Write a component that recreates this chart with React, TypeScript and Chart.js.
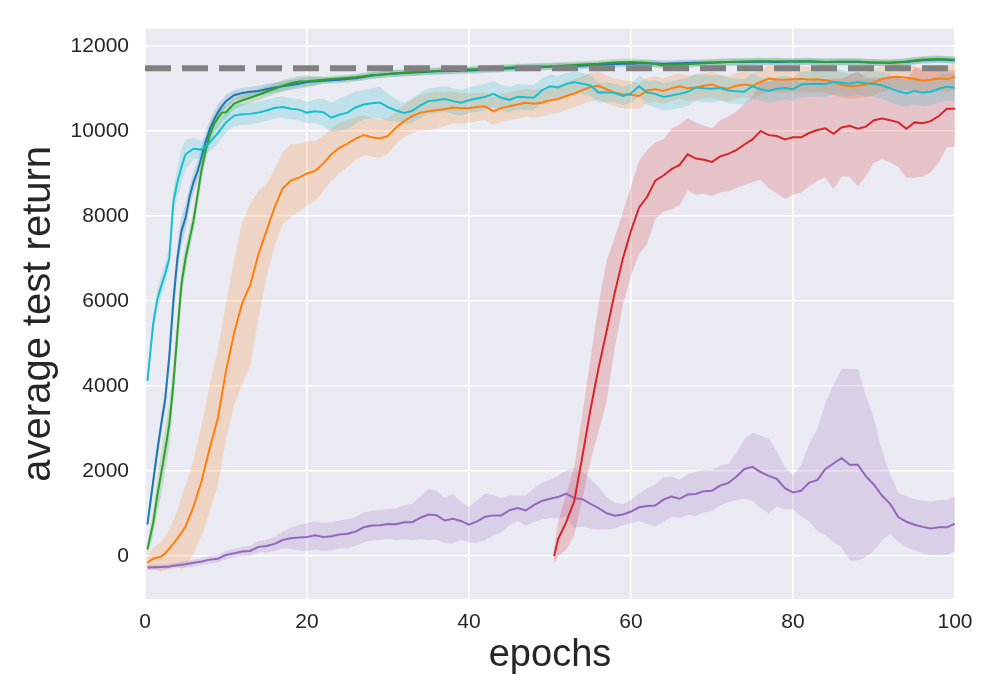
import { useEffect, useRef } from "react"
import { Chart, registerables } from "chart.js"

Chart.register(...registerables)

// x positions (epochs) for the fast learners, sampled finer at the start
const epochsFast = [
  0.3, 1, 1.5, 2, 2.5, 3, 3.5, 4, 4.5, 5, 5.5, 6, 6.5, 7, 7.5, 8, 8.5, 9, 9.5, 10,
  11, 12, 13, 14, 15, 16, 17, 18, 19, 20,
  22, 24, 26, 28, 30, 32, 34, 36, 38, 40, 42, 44, 46, 48, 50, 52, 54, 56, 58, 60,
  62, 64, 66, 68, 70, 72, 74, 76, 78, 80, 82, 84, 86, 88, 90, 92, 94, 96, 98, 100,
]

const epochs = [
  0.3, 1, 1.5, 2, 2.5, 3, 3.5, 4, 4.5, 5,
  6, 7, 8, 9, 10, 11, 12, 13, 14, 15, 16, 17, 18, 19, 20,
  21, 22, 23, 24, 25, 26, 27, 28, 29, 30, 31, 32, 33, 34, 35, 36, 37, 38, 39, 40,
  41, 42, 43, 44, 45, 46, 47, 48, 49, 50, 51, 52, 53, 54, 55, 56, 57, 58, 59, 60,
  61, 62, 63, 64, 65, 66, 67, 68, 69, 70, 71, 72, 73, 74, 75, 76, 77, 78, 79, 80,
  81, 82, 83, 84, 85, 86, 87, 88, 89, 90, 91, 92, 93, 94, 95, 96, 97, 98, 99, 100,
]

const epochsRed = [
  50.5, 51, 52, 53, 54, 55, 56, 57, 58, 59, 60,
  61, 62, 63, 64, 65, 66, 67, 68, 69, 70, 71, 72, 73, 74, 75, 76, 77, 78, 79, 80,
  81, 82, 83, 84, 85, 86, 87, 88, 89, 90, 91, 92, 93, 94, 95, 96, 97, 98, 99, 100,
]

const xTicks = [0, 20, 40, 60, 80, 100]
const yTicks = [0, 2000, 4000, 6000, 8000, 10000, 12000]

const blueMean = [
  750, 1750, 2450, 3100, 3700, 4700, 5990, 7000, 7650, 7950, 8450, 8800, 9050, 9400, 9750, 10040, 10250, 10430, 10580, 10700,
  10840, 10890, 10920, 10940, 10980, 11020, 11050, 11080, 11110, 11150,
  11180, 11200, 11240, 11300, 11340, 11360, 11380, 11400, 11410, 11420,
  11440, 11460, 11480, 11500, 11510, 11520, 11530, 11550, 11570, 11580,
  11590, 11580, 11590, 11600, 11610, 11620, 11620, 11630, 11620, 11630,
  11630, 11620, 11620, 11620, 11610, 11600, 11620, 11660, 11680, 11660,
]
const blueStd = [
  100, 200, 200, 200, 250, 300, 350, 350, 350, 300, 250, 250, 250, 250, 250, 200, 200, 200, 150, 150,
  120, 120, 120, 120, 120, 120, 120, 120, 120, 120,
  80, 80, 80, 80, 80, 80, 80, 80, 80, 80, 80, 80, 80, 80, 80, 80, 80, 80, 80, 80,
  80, 80, 80, 80, 80, 80, 80, 80, 80, 80, 80, 80, 80, 80, 80, 80, 80, 80, 80, 80,
]

const greenMean = [
  160, 770, 1400, 1950, 2500, 3100, 4040, 5250, 6400, 7000, 7450, 7900, 8500, 9100, 9550, 9900, 10150, 10300, 10430, 10440,
  10640, 10720, 10780, 10850, 10920, 10990, 11060, 11120, 11160, 11170,
  11200, 11230, 11260, 11310, 11340, 11370, 11390, 11410, 11430, 11445,
  11460, 11480, 11500, 11510, 11520, 11540, 11560, 11580, 11610, 11620,
  11600, 11540, 11560, 11580, 11600, 11620, 11630, 11640, 11640, 11630,
  11640, 11620, 11630, 11630, 11600, 11600, 11630, 11680, 11690, 11670,
]
const greenStd = [
  150, 300, 400, 500, 500, 500, 450, 400, 350, 300, 250, 250, 250, 250, 250, 250, 200, 200, 200, 150,
  130, 130, 130, 130, 130, 130, 130, 130, 130, 130,
  80, 80, 80, 80, 80, 80, 80, 80, 80, 80, 80, 80, 80, 80, 80, 80, 80, 80, 80, 80,
  80, 80, 80, 80, 80, 80, 80, 80, 80, 80, 80, 80, 80, 80, 80, 80, 80, 80, 80, 80,
]

const cyanMean = [
  4120, 5450, 6020, 6350, 6650, 7000, 8330, 8800, 9150, 9450,
  9580, 9560, 9730, 9950, 10200, 10360, 10390, 10400, 10430, 10480,
  10540, 10560, 10520, 10500, 10430, 10460, 10440, 10310, 10380, 10430,
  10550, 10620, 10650, 10665, 10560, 10480, 10420, 10470, 10600, 10700,
  10720, 10750, 10700, 10660, 10720, 10760, 10800, 10870, 10780, 10730,
  10800, 10790, 10780, 10950, 11050, 11020, 11100, 11150, 11110, 11070,
  10900, 10910, 10890, 10820, 10880, 11050, 10900, 10870, 10800, 10830,
  10870, 10920, 11020, 11000, 10990, 11010, 10950, 10930, 10920, 11050,
  10980, 10940, 10990, 11010, 10980, 11090, 11100, 11110, 11100, 11150,
  11130, 11110, 11150, 11120, 11100, 11070, 11000, 10930, 10880, 10940,
  10900, 10920, 10990, 11040, 11017,
]
const cyanStd = [
  150, 200, 250, 250, 250, 250, 300, 350, 400, 350,
  250, 200, 200, 250, 250, 250, 250, 250, 250, 250,
  250, 250, 250, 250, 250, 280, 320, 350, 380, 400,
  380, 350, 350, 370, 320, 260, 250, 280, 300, 300,
  300, 300, 300, 300, 300, 310, 310, 300, 300, 300,
  300, 300, 300, 280, 275, 270, 260, 250, 250, 250,
  230, 230, 220, 220, 220, 250, 280, 320, 320, 330,
  340, 330, 320, 320, 320, 300, 300, 300, 300, 300,
  280, 280, 280, 280, 280, 300, 300, 300, 300, 300,
  300, 300, 300, 300, 300, 320, 320, 320, 320, 320,
  320, 320, 320, 320, 320,
]

const orangeMean = [
  -155, -60, -30, -10, 70, 180, 295, 420, 550, 700,
  1170, 1780, 2550, 3250, 4350, 5250, 5950, 6380, 7100, 7650,
  8200, 8650, 8830, 8900, 9000, 9060, 9230, 9450, 9600, 9700,
  9820, 9900, 9850, 9820, 9880, 10080, 10230, 10350, 10430, 10460,
  10490, 10510, 10550, 10530, 10540, 10560, 10580, 10460, 10540, 10580,
  10620, 10660, 10640, 10660, 10720, 10750, 10820, 10880, 10960, 11030,
  11060, 10980, 10900, 10860, 10850, 10820, 10950, 10980, 10940, 11000,
  11050, 11000, 11020, 11060, 11090, 11020, 10990, 11060, 11090, 11060,
  11150, 11230, 11210, 11200, 11215, 11220, 11210, 11215, 11190, 11150,
  11080, 11050, 11060, 11090, 11140, 11220, 11260, 11270, 11250, 11220,
  11180, 11200, 11230, 11220, 11270,
]
const orangeStd = [
  150, 250, 300, 350, 400, 450, 550, 650, 850, 950,
  1100, 1300, 1500, 1600, 1600, 1700, 1900, 1900, 1500, 1100,
  900, 850, 850, 800, 750, 700, 650, 620, 600, 550,
  500, 470, 450, 450, 420, 380, 380, 400, 420, 440,
  430, 400, 380, 360, 350, 330, 330, 330, 330, 330,
  330, 330, 330, 330, 330, 330, 330, 330, 330, 330,
  330, 330, 330, 330, 330, 300, 300, 300, 300, 300,
  300, 300, 300, 300, 300, 300, 300, 300, 300, 300,
  300, 300, 300, 300, 300, 300, 300, 300, 300, 300,
  300, 300, 300, 300, 300, 300, 300, 300, 300, 300,
  300, 300, 300, 300, 300,
]

const purpleMean = [
  -265, -262, -260, -255, -250, -245, -225, -210, -200, -190,
  -155, -125, -80, -60, 30, 70, 110, 125, 220, 240,
  290, 380, 420, 440, 450, 490, 450, 470, 510, 530,
  580, 680, 720, 730, 760, 750, 800, 800, 905, 980,
  965, 840, 880, 830, 740, 820, 930, 960, 960, 1080,
  1130, 1075, 1200, 1300, 1350, 1390, 1470, 1370, 1340, 1230,
  1130, 1010, 950, 980, 1050, 1150, 1180, 1190, 1330, 1400,
  1350, 1450, 1465, 1530, 1540, 1660, 1720, 1870, 2050, 2100,
  1980, 1890, 1820, 1600, 1500, 1540, 1730, 1790, 2050, 2180,
  2310, 2150, 2150, 1880, 1680, 1420, 1230, 920, 810, 740,
  690, 650, 680, 680, 765,
]
const purpleStd = [
  60, 60, 60, 60, 60, 60, 60, 70, 70, 80,
  80, 80, 90, 90, 100, 100, 110, 120, 130, 150,
  170, 200, 250, 300, 330, 330, 330, 330, 330, 340,
  340, 350, 350, 350, 350, 380, 400, 430, 500, 600,
  580, 530, 580, 450, 420, 500, 550, 480, 400, 350,
  300, 350, 400, 430, 450, 500, 550, 700, 650, 580,
  500, 380, 300, 250, 280, 320, 420, 500, 520, 470,
  450, 480, 520, 500, 480, 470, 450, 550, 700, 800,
  850, 880, 650, 500, 400, 600, 900, 1200, 1550, 1850,
  2100, 2250, 2250, 1900, 1550, 1050, 700, 580, 600, 600,
  620, 630, 640, 650, 650,
]

const redMean = [
  0, 400, 800, 1300, 2350, 3450, 4430, 5300, 6200, 7000, 7650,
  8200, 8450, 8830, 8950, 9100, 9200, 9450, 9350, 9320, 9270,
  9400, 9460, 9550, 9680, 9800, 10000, 9900, 9880, 9800, 9850,
  9850, 9950, 10020, 10060, 9930, 10080, 10120, 10050, 10100, 10250,
  10290, 10250, 10200, 10050, 10200, 10180, 10230, 10350, 10520, 10520,
]
const redStd = [
  180, 400, 650, 800, 1000, 1200, 1500, 1650, 1300, 1100, 1050,
  1100, 1100, 900, 850, 950, 950, 850, 850, 800, 800,
  850, 880, 900, 950, 1000, 1150, 1250, 1350, 1400, 1350,
  1300, 1250, 1200, 1150, 1300, 1150, 1200, 1350, 1150, 1000,
  950, 1000, 1050, 1150, 1300, 1250, 1200, 1100, 900, 900,
]

const bestReturn = 11470

// top-most first: Chart.js draws dataset 0 last
const series = [
  { name: "cyan", xs: epochs, mean: cyanMean, std: cyanStd, color: "23,190,207" },
  { name: "red", xs: epochsRed, mean: redMean, std: redStd, color: "214,39,40" },
  { name: "purple", xs: epochs, mean: purpleMean, std: purpleStd, color: "148,103,189" },
  { name: "green", xs: epochsFast, mean: greenMean, std: greenStd, color: "44,160,44" },
  { name: "orange", xs: epochs, mean: orangeMean, std: orangeStd, color: "255,127,14" },
  { name: "blue", xs: epochsFast, mean: blueMean, std: blueStd, color: "31,119,180" },
]

const FONT = "'Liberation Sans', Arial, Helvetica, sans-serif"
const TEXT = "#262626"

const plotBackground = {
  id: "plotBackground",
  beforeDraw(chart: Chart) {
    const { ctx, chartArea: a, width, height } = chart
    ctx.save()
    ctx.fillStyle = "#ffffff"
    ctx.fillRect(0, 0, width, height)
    ctx.fillStyle = "#EAEAF2"
    ctx.fillRect(a.left, a.top, a.right - a.left, a.bottom - a.top)
    ctx.restore()
  },
}

export default function App() {
  const canvasRef = useRef<HTMLCanvasElement>(null)
  const chartRef = useRef<Chart | null>(null)

  useEffect(() => {
    if (!canvasRef.current) return
    if (chartRef.current) chartRef.current.destroy()

    const datasets: any[] = []

    datasets.push({
      data: [
        { x: 0, y: bestReturn },
        { x: 100, y: bestReturn },
      ],
      borderColor: "#808080",
      borderWidth: 6,
      borderDash: [26, 11],
      pointRadius: 0,
      fill: false,
    })

    series.forEach((s) => {
      datasets.push({
        label: s.name,
        data: s.xs.map((x, i) => ({ x, y: s.mean[i] })),
        borderColor: `rgb(${s.color})`,
        borderWidth: 2,
        pointRadius: 0,
        tension: 0,
        fill: false,
      })
    })

    series.forEach((s) => {
      datasets.push({
        data: s.xs.map((x, i) => ({ x, y: s.mean[i] - s.std[i] })),
        borderWidth: 0,
        borderColor: "rgba(0,0,0,0)",
        pointRadius: 0,
        fill: false,
      })
      datasets.push({
        data: s.xs.map((x, i) => ({ x, y: s.mean[i] + s.std[i] })),
        borderWidth: 0,
        borderColor: "rgba(0,0,0,0)",
        backgroundColor: `rgba(${s.color},0.2)`,
        pointRadius: 0,
        fill: "-1",
      })
    })

    chartRef.current = new Chart(canvasRef.current, {
      type: "line",
      data: { datasets },
      plugins: [plotBackground],
      options: {
        animation: false,
        responsive: true,
        maintainAspectRatio: false,
        layout: { padding: { top: 26, right: 45, bottom: 0, left: 0 } },
        plugins: {
          legend: { display: false },
          tooltip: { enabled: false },
          filler: { drawTime: "beforeDatasetsDraw" },
        },
        scales: {
          x: {
            type: "linear",
            min: 0,
            max: 100,
            border: { display: false },
            grid: { color: "#ffffff", lineWidth: 1.5, drawTicks: false },
            ticks: {
              padding: 11,
              color: TEXT,
              font: { family: FONT, size: 21 },
              maxRotation: 0,
            },
            afterBuildTicks: (scale: any) => {
              scale.ticks = xTicks.map((value) => ({ value }))
            },
            title: {
              display: true,
              text: "epochs",
              color: TEXT,
              font: { family: FONT, size: 38 },
              padding: { top: 0, bottom: 22 },
            },
            afterFit: (scale: any) => {
              scale.height = 101
            },
          },
          y: {
            min: -1006,
            max: 12405,
            border: { display: false },
            grid: { color: "#ffffff", lineWidth: 1.5, drawTicks: false },
            ticks: {
              padding: 16,
              color: TEXT,
              font: { family: FONT, size: 21 },
              callback: (v: any) => String(v),
            },
            afterBuildTicks: (scale: any) => {
              scale.ticks = yTicks.map((value) => ({ value }))
            },
            title: {
              display: true,
              text: "average test return",
              color: TEXT,
              font: { family: FONT, size: 40 },
              padding: { top: 15, bottom: 0 },
            },
            afterFit: (scale: any) => {
              scale.width = 145
            },
          },
        },
      },
    })

    return () => {
      if (chartRef.current) {
        chartRef.current.destroy()
        chartRef.current = null
      }
    }
  }, [])

  return (
    <div style={{ position: "fixed", left: 0, top: 0, width: 1000, height: 700, background: "#fff" }}>
      <canvas ref={canvasRef} />
    </div>
  )
}
